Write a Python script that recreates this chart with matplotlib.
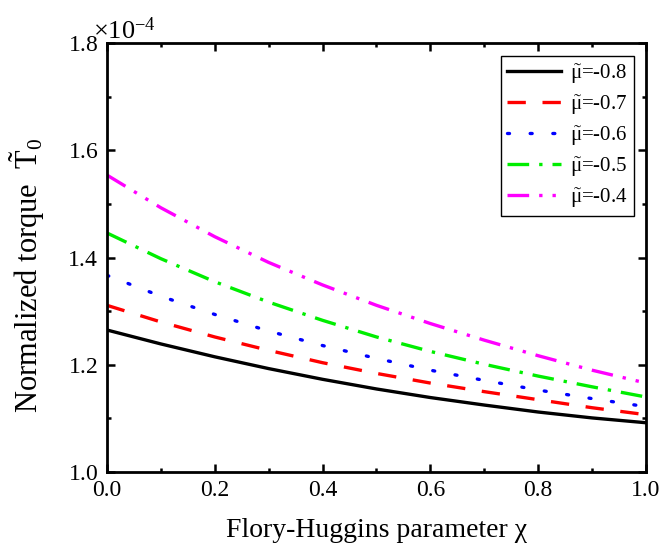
import numpy as np
import matplotlib
matplotlib.use("Agg")
import matplotlib.pyplot as plt
from matplotlib.ticker import MultipleLocator, ScalarFormatter

plt.rcParams['font.family'] = ['Liberation Serif', 'DejaVu Serif']
plt.rcParams['mathtext.fontset'] = 'custom'
plt.rcParams['mathtext.rm'] = 'Liberation Serif'
plt.rcParams['mathtext.it'] = 'Liberation Serif:italic'

chi = [0.0, 0.1, 0.2, 0.3, 0.4, 0.5, 0.6, 0.7, 0.8, 0.9, 1.0]

# normalized torque, units of 1e-4
t_08 = [1.265, 1.239, 1.215, 1.193, 1.173, 1.155, 1.139, 1.125, 1.112, 1.101, 1.092]
t_07 = [1.311, 1.280, 1.252, 1.227, 1.204, 1.184, 1.166, 1.150, 1.135, 1.120, 1.107]
t_06 = [1.367, 1.328, 1.294, 1.263, 1.236, 1.212, 1.190, 1.171, 1.153, 1.137, 1.122]
t_05 = [1.446, 1.398, 1.355, 1.317, 1.283, 1.252, 1.225, 1.201, 1.179, 1.159, 1.140]
t_04 = [1.554, 1.493, 1.439, 1.391, 1.349, 1.311, 1.277, 1.246, 1.217, 1.190, 1.166]

series = [
    (t_08, "-0.8", "black", "-"),
    (t_07, "-0.7", "red", (0, (5.5, 5))),
    (t_06, "-0.6", "blue", (0, (0.6, 6.2))),
    (t_05, "-0.5", "#00ee00", (0, (6.5, 3, 1, 3))),
    (t_04, "-0.4", "magenta", (0, (6.5, 3, 1, 3, 1, 3))),
]

fig = plt.figure(figsize=(6.64, 5.6), dpi=100)
ax = fig.add_axes([0.161, 0.157, 0.812, 0.766])

for vals, lab, col, ls in series:
    cap = 'round' if col == 'blue' else 'butt'
    ax.plot(chi, np.array(vals) * 1e-4, color=col, linestyle=ls, linewidth=2.4,
            dash_capstyle=cap, label=r"$\tilde{\mathrm{μ}}$=" + lab)

ax.set_xlim(0, 1.0)
ax.set_ylim(1.0e-4, 1.8e-4)
ax.xaxis.set_major_locator(MultipleLocator(0.2))
ax.xaxis.set_minor_locator(MultipleLocator(0.1))
ax.yaxis.set_major_locator(MultipleLocator(0.2e-4))
ax.yaxis.set_minor_locator(MultipleLocator(0.1e-4))

fmt = ScalarFormatter(useMathText=True)
fmt.set_powerlimits((0, 0))
ax.yaxis.set_major_formatter(fmt)
ax.xaxis.set_major_formatter(plt.FuncFormatter(lambda v, p: f"{v:.1f}"))
off = ax.yaxis.get_offset_text()
off.set_fontsize(19)
off.set_x(-0.025)

ax.tick_params(which='both', direction='in', top=True, right=True, width=1.8)
ax.tick_params(which='major', length=6, labelsize=17, pad=6)
ax.tick_params(which='minor', length=3)
for s in ax.spines.values():
    s.set_linewidth(2)

ax.set_xlabel("Flory-Huggins parameter χ", fontsize=20, labelpad=12)
ax.set_ylabel(r"Normalized torque  $\tilde{\mathrm{T}}_0$", fontsize=22)
ax.yaxis.set_label_coords(-0.112, 0.46)

leg = ax.legend(loc='upper right', fontsize=15, fancybox=False, edgecolor='black',
                framealpha=1, handlelength=2.6, borderpad=0.3, labelspacing=0.35,
                handletextpad=0.4, borderaxespad=0.6)
leg.get_frame().set_linewidth(1.0)

fig.savefig("out.png", dpi=100)
